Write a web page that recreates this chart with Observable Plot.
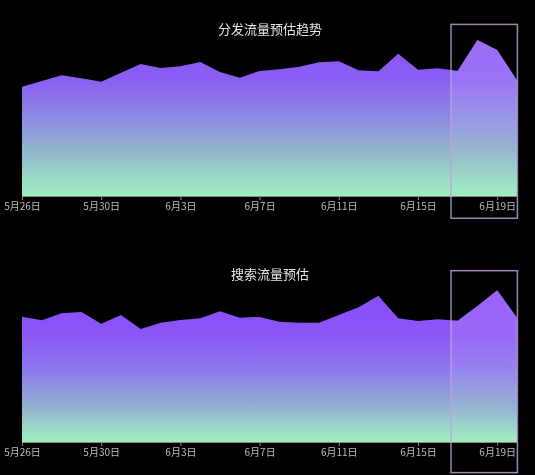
<!DOCTYPE html>
<html>
<head>
<meta charset="utf-8">
<script src="https://cdn.jsdelivr.net/npm/d3@7"></script>
<script src="https://cdn.jsdelivr.net/npm/@observablehq/plot@0.6"></script>
<style>
  html, body { margin: 0; padding: 0; background: #000; }
  #wrap { width: 535px; }
  svg { display: block; }
</style>
</head>
<body>
<div id="wrap"></div>
<script>
// ---- data ----
const dates = [
  "2024-05-26","2024-05-27","2024-05-28","2024-05-29","2024-05-30","2024-05-31",
  "2024-06-01","2024-06-02","2024-06-03","2024-06-04","2024-06-05","2024-06-06",
  "2024-06-07","2024-06-08","2024-06-09","2024-06-10","2024-06-11","2024-06-12",
  "2024-06-13","2024-06-14","2024-06-15","2024-06-16","2024-06-17","2024-06-18",
  "2024-06-19","2024-06-20"
];
const distributionTraffic = [
  66.2, 69.7, 73.2, 71.3, 69.3, 74.7, 80.0, 77.6, 78.6, 81.2, 75.2, 71.7, 75.8,
  76.8, 78.4, 81.0, 81.6, 76.2, 75.6, 86.2, 76.5, 77.4, 75.8, 94.5, 88.5, 70.1
];
const searchTraffic = [
  72.8, 70.8, 74.8, 75.6, 68.8, 73.8, 65.7, 69.4, 70.9, 71.9, 76.0, 72.3, 72.7,
  69.9, 69.4, 69.4, 73.8, 78.3, 85.1, 71.9, 70.3, 71.3, 70.5, 79.1, 88.2, 72.3
];
const tickDates = ["2024-05-26","2024-05-30","2024-06-03","2024-06-07","2024-06-11","2024-06-15","2024-06-19"];
const forecastWindow = ["2024-06-16T16:00Z", "2024-06-20T00:30Z"];
const titles = ["分发流量预估趋势", "搜索流量预估"];

const fmt = d => `${d.getUTCMonth() + 1}月${d.getUTCDate()}日`;
const parsed = dates.map(s => new Date(s));
const ns = "http://www.w3.org/2000/svg";

function makeGradient(id, stops) {
  const lg = document.createElementNS(ns, "linearGradient");
  lg.setAttribute("id", id);
  lg.setAttribute("x1", "0"); lg.setAttribute("y1", "0");
  lg.setAttribute("x2", "0"); lg.setAttribute("y2", "1");
  for (const [off, col, op] of stops) {
    const s = document.createElementNS(ns, "stop");
    s.setAttribute("offset", off);
    s.setAttribute("stop-color", col);
    if (op != null) s.setAttribute("stop-opacity", op);
    lg.appendChild(s);
  }
  return lg;
}

function panel({title, values, gradId, stops, height, marginTop, marginBottom, titleDy, boxY}) {
  const rows = parsed.map((d, i) => ({date: d, value: values[i]}));
  const box = [{x1: new Date(forecastWindow[0]), x2: new Date(forecastWindow[1])}];
  const ticks = tickDates.map(s => new Date(s));
  const svg = Plot.plot({
    width: 535,
    height,
    marginLeft: 22,
    marginRight: 18,
    marginTop,
    marginBottom,
    style: {background: "#000", color: "#bdbdbd", fontFamily: "'Noto Sans CJK SC', 'Noto Sans', sans-serif", fontSize: "10px"},
    x: {type: "utc", domain: [parsed[0], parsed[parsed.length - 1]], ticks, tickFormat: fmt, label: null, tickSize: 4, tickPadding: 2},
    y: {domain: [0, 100], axis: null},
    marks: [
      Plot.areaY(rows, {x: "date", y: "value", fill: `url(#${gradId})`}),
      Plot.rect(box, {x1: "x1", x2: "x2", y1: 0, y2: 100, fill: `url(#${gradId}-ov)`, mixBlendMode: "soft-light"}),
      Plot.ruleY([0], {stroke: "#8a8a8a", strokeWidth: 1}),
      Plot.axisX({ticks, tickFormat: fmt, tickSize: 4, tickPadding: 2, stroke: "#8a8a8a", fill: "#bdbdbd", label: null}),
      Plot.rect(box, {x1: "x1", x2: "x2", y1: boxY[0], y2: boxY[1], fill: "none", stroke: "#c4a0dc", strokeOpacity: 0.82, strokeWidth: 1.5}),
      Plot.text([title], {frameAnchor: "top", dy: titleDy, text: d => d, fill: "#e4e4e4", fontSize: 13, fontFamily: "'Noto Sans CJK SC', sans-serif"})
    ]
  });
  const defs = document.createElementNS(ns, "defs");
  defs.appendChild(makeGradient(gradId, stops));
  defs.appendChild(makeGradient(gradId + "-ov", [["0", "#ffffff", 0.4], ["0.45", "#ffffff", 0.28], ["0.85", "#ffffff", 0.05], ["1", "#ffffff", 0]]));
  svg.insertBefore(defs, svg.firstChild);
  return svg;
}

const wrap = document.getElementById("wrap");
wrap.appendChild(panel({
  title: titles[0], values: distributionTraffic, gradId: "gradTop",
  stops: [["0", "#8a55f7"], ["0.25", "#8a5ef4"], ["0.5", "#8d8ae2"], ["0.72", "#93b7cc"], ["1", "#9df0bf"]],
  height: 240, marginTop: 31, marginBottom: 44, titleDy: -7, boxY: [104, -13.5]
}));
wrap.appendChild(panel({
  title: titles[1], values: searchTraffic, gradId: "gradBottom",
  stops: [["0", "#8a4cf9"], ["0.28", "#8a55f6"], ["0.5", "#8c74ee"], ["0.74", "#92aad3"], ["1", "#9ef0bf"]],
  height: 235, marginTop: 30, marginBottom: 33, titleDy: -1, boxY: [99.6, -17.8]
}));
</script>
</body>
</html>
